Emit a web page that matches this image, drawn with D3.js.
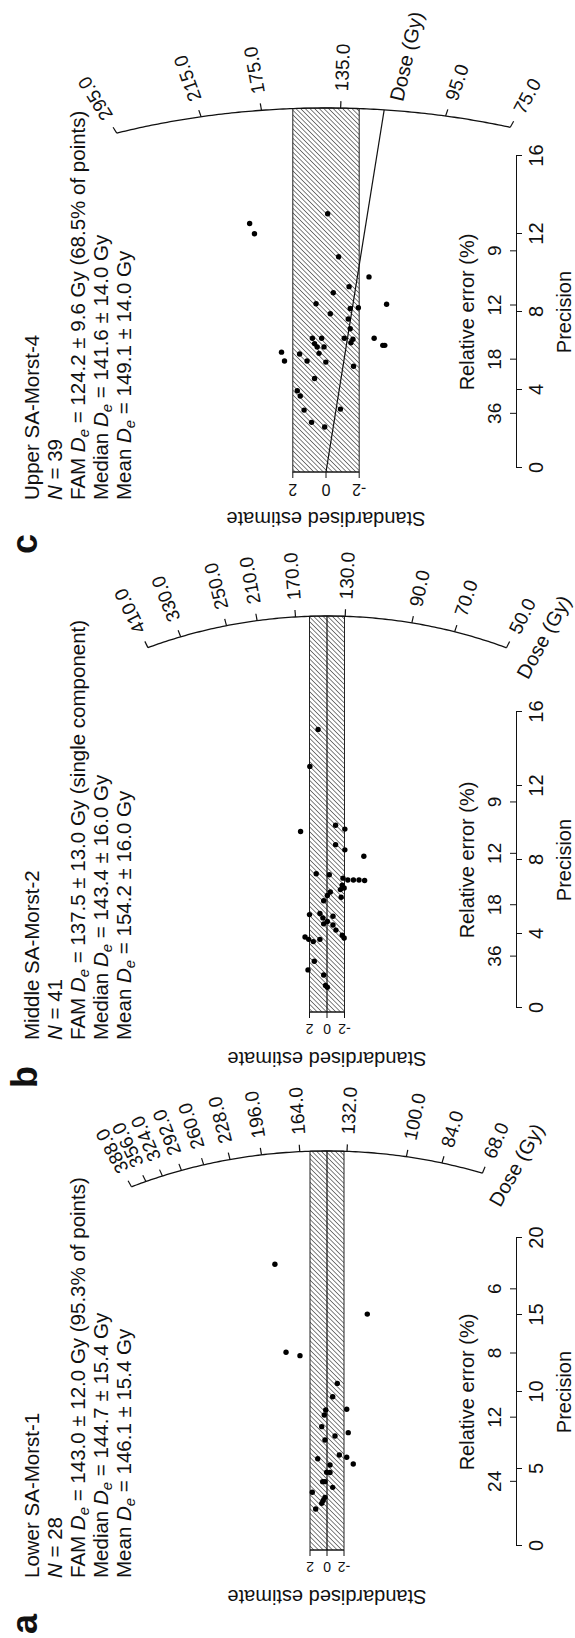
<!DOCTYPE html>
<html>
<head>
<meta charset="utf-8">
<script src="https://cdn.jsdelivr.net/npm/d3@7"></script>
<style>
  body { margin: 0; background: #fff; }
  svg text { font-family: "Liberation Sans", Arial, sans-serif; fill: #111; }
</style>
</head>
<body>
<div id="chart"></div>
<script>
// points are [precision, standardised estimate]
var pointsA = [[18.3, 6.13], [15.06, -4.74], [12.58, 4.82], [12.36, 3.18], [10.56, -1.21],
  [9.69, -0.67], [8.88, -2.32], [8.83, 0.15], [8.51, 0.32], [7.75, 0.62], [7.36, -2.5],
  [7.14, -0.94], [6.88, 0.24], [5.91, -1.45], [5.76, -2.32], [5.32, -3.09], [5.67, 1.09],
  [5.26, -0.35], [4.79, 0.04], [4.77, -0.35], [4.18, 0.51], [4.18, 0.24], [3.81, -0.67],
  [3.49, 1.73], [3.16, 0.24], [2.95, 0.45], [2.77, 0.62], [2.4, 1.33]];
var pointsB = [[15.06, 1.02], [13.06, 1.96], [9.54, 3.02], [9.88, -0.98], [9.67, -2.04],
  [8.83, -0.98], [8.55, -2.04], [8.2, -4.21], [7.26, 1.23], [7.2, -0.26], [7.02, -1.83],
  [6.92, -2.38], [6.92, -3.02], [6.92, -3.66], [6.89, -4.3], [6.64, -1.74], [6.4, -1.53],
  [6.49, -1.96], [6.27, -0.38], [6.08, -0.04], [5.8, 0.38], [5.99, -1.62], [5.11, 0.81],
  [5.05, 2.0], [4.87, 0.47], [4.96, -0.68], [4.68, -0.04], [4.55, 0.38], [4.21, -1.02],
  [3.93, -1.74], [3.78, -1.96], [3.84, 2.51], [3.71, 2.09], [3.59, 1.57], [3.71, 0.81],
  [2.53, 1.45], [2.06, 2.17], [1.78, 0.38], [1.22, 0.17], [1.12, -0.04], [4.49, -0.68]];
var pointsC = [[12.54, 4.6], [12.01, 4.31], [13.04, -0.1], [10.83, -0.76], [9.8, -2.59],
  [9.3, -1.39], [8.99, -0.44], [8.4, -3.65], [8.42, 0.6], [7.91, -0.26], [8.18, -1.46],
  [8.22, -1.95], [7.64, -1.34], [7.14, -1.46], [6.65, -1.1], [6.6, -1.62], [6.42, -1.5],
  [6.65, -2.9], [6.29, -3.42], [6.29, -3.54], [6.65, 0.82], [6.65, 0.26], [6.38, 0.69],
  [6.21, 0.12], [5.88, 0.42], [5.94, 2.68], [5.49, 2.5], [5.85, 1.59], [5.49, 1.14],
  [5.43, 0.01], [5.22, -1.66], [4.59, 0.69], [3.96, 1.73], [3.69, 1.55], [2.97, 1.32],
  [3.02, -0.87], [2.34, 0.87], [2.1, 0.08], [6.21, 0.53]];

var doseTicksA = [388, 356, 324, 292, 260, 228, 196, 164, 132, 100, 84, 68];
var doseTicksB = [410, 330, 250, 210, 170, 130, 90, 70, 50];
var doseTicksC = [295, 215, 175, 135, 95, 75];

var precTicksA = [0, 5, 10, 15, 20];
var precTicksBC = [0, 4, 8, 12, 16];
var relErrTicksA = [24, 12, 8, 6];
var relErrTicksBC = [36, 18, 12, 9];
var stdTicks = [2, 0, -2];

var titles = ["Lower SA-Morst-1", "Middle SA-Morst-2", "Upper SA-Morst-4"];
var counts = [28, 41, 39];
var famText = ["= 143.0 \u00b1 12.0 Gy (95.3% of points)", "= 137.5 \u00b1 13.0 Gy (single component)",
  "= 124.2 \u00b1 9.6 Gy (68.5% of points)"];
var medianText = ["= 144.7 \u00b1 15.4 Gy", "= 143.4 \u00b1 16.0 Gy", "= 141.6 \u00b1 14.0 Gy"];
var meanText = ["= 146.1 \u00b1 15.4 Gy", "= 154.2 \u00b1 16.0 Gy", "= 149.1 \u00b1 14.0 Gy"];
var centralDose = [144.7, 143.4, 141.6];
var famLineDose = [null, null, 117];

// layout in the landscape frame (u to the right, v down), drawn rotated.
// the dose arc is an ellipse: A along precision, B across
var panels = [
  { key: "a", points: pointsA, doses: doseTicksA, prec: precTicksA, rel: relErrTicksA,
    u0: 92, v0: 327, kx: 15.4, ky: 8.5, A: 395, B: 470, textU: 60, labelU: 4, centre: true,
    doseLab: { r: 380, ang: -26.1, rot: -29.3 }, tickFont: 14 },
  { key: "b", points: pointsB, doses: doseTicksB, prec: precTicksBC, rel: relErrTicksBC,
    u0: 630, v0: 327, kx: 18.5, ky: 8.75, A: 392, B: 455, textU: 598, labelU: 550, centre: true,
    doseLab: { r: 384, ang: -30.5, rot: -28.6 }, tickFont: 14 },
  { key: "c", points: pointsC, doses: doseTicksC, prec: precTicksBC, rel: relErrTicksBC,
    u0: 1170, v0: 326, kx: 19.5, ky: 16.6, A: 360, B: 570, textU: 1138, labelU: 1084, centre: false,
    doseLab: { r: 374, ang: -10.8, rot: -13 }, tickFont: 16 }
];

var W = 575, H = 1638;
var svg = d3.select("#chart").append("svg").attr("width", W).attr("height", H);

var defs = svg.append("defs");
defs.append("pattern")
  .attr("id", "hatch")
  .attr("patternUnits", "userSpaceOnUse")
  .attr("width", 3.3).attr("height", 3.3)
  .attr("patternTransform", "rotate(45)")
  .append("line")
  .attr("x1", 0).attr("y1", 0).attr("x2", 0).attr("y2", 3.3)
  .attr("stroke", "#1a1a1a").attr("stroke-width", 1.1);

// whole figure is drawn landscape and turned a quarter turn
var root = svg.append("g").attr("transform", "translate(0," + H + ") rotate(-90)");

var axisV = 516;

panels.forEach(function (p, i) {
  var g = root.append("g");
  var maxP = d3.max(p.prec);
  var x = d3.scaleLinear().domain([0, maxP]).range([p.u0, p.u0 + p.kx * maxP]);
  var y = d3.scaleLinear().domain([-2, 2]).range([p.v0 + 2 * p.ky, p.v0 - 2 * p.ky]);

  // where the ray of a dose meets the arc, plus an outward offset in px
  function onArc(d, extra) {
    var s = Math.log(d / centralDose[i]);
    var du = p.kx, dv = -p.ky * s;
    var t = 1 / Math.sqrt(Math.pow(du / p.A, 2) + Math.pow(dv / p.B, 2));
    var len = Math.sqrt(du * du + dv * dv);
    var tt = t + (extra || 0) / len;
    return { u: p.u0 + du * tt, v: p.v0 + dv * tt, deg: Math.atan2(-dv, du) * 180 / Math.PI };
  }
  function ellipseU(dv) {
    return p.u0 + p.A * Math.sqrt(1 - Math.pow(dv / p.B, 2));
  }

  // band of +/- 2 ending on the arc
  var yTop = y(2) - p.v0, yBot = y(-2) - p.v0;
  var band = d3.range(0, 11).map(function (k) {
    var dv = yTop + (yBot - yTop) * k / 10;
    return [ellipseU(dv), p.v0 + dv];
  });
  var bandPts = [[p.u0 - 4, y(2)]].concat(band).concat([[p.u0 - 4, y(-2)]]);
  g.append("path")
    .attr("d", d3.line()(bandPts) + "Z")
    .attr("fill", "url(#hatch)")
    .attr("stroke", "#222").attr("stroke-width", 1);

  if (p.centre) {
    g.append("line")
      .attr("x1", p.u0 - 4).attr("y1", p.v0)
      .attr("x2", ellipseU(0)).attr("y2", p.v0)
      .attr("stroke", "#111").attr("stroke-width", 1.2);
  }
  if (famLineDose[i]) {
    var end = onArc(famLineDose[i], 0);
    g.append("line")
      .attr("x1", p.u0 - 4).attr("y1", p.v0)
      .attr("x2", end.u).attr("y2", end.v)
      .attr("stroke", "#111").attr("stroke-width", 1.2);
  }

  // dose arc, sampled along the log dose
  var lo = Math.log(d3.min(p.doses)), hi = Math.log(d3.max(p.doses));
  var arcPts = d3.range(0, 121).map(function (k) {
    var q = onArc(Math.exp(hi + (lo - hi) * k / 120), 0);
    return [q.u, q.v];
  });
  g.append("path").attr("d", d3.line()(arcPts))
    .attr("fill", "none").attr("stroke", "#111").attr("stroke-width", 1.3);

  p.doses.forEach(function (d) {
    var q0 = onArc(d, 0), q1 = onArc(d, 7), q2 = onArc(d, 17);
    g.append("line")
      .attr("x1", q0.u).attr("y1", q0.v).attr("x2", q1.u).attr("y2", q1.v)
      .attr("stroke", "#111").attr("stroke-width", 1.2);
    g.append("text")
      .attr("transform", "translate(" + q2.u + "," + q2.v + ") rotate(" + (-q2.deg) + ")")
      .attr("dy", "0.35em")
      .style("font-size", "19px")
      .text(d.toFixed(1));
  });

  var ang = p.doseLab.ang * Math.PI / 180;
  g.append("text")
    .attr("transform", "translate(" + (p.u0 + p.doseLab.r * Math.cos(ang)) + "," +
      (p.v0 - p.doseLab.r * Math.sin(ang)) + ") rotate(" + (-p.doseLab.rot) + ")")
    .attr("dy", "0.35em")
    .style("font-size", "20px")
    .text("Dose (Gy)");

  // standardised estimate axis
  var ax = p.u0 - 4;
  g.append("line").attr("x1", ax).attr("x2", ax).attr("y1", y(2)).attr("y2", y(-2))
    .attr("stroke", "#111");
  stdTicks.forEach(function (t) {
    g.append("line").attr("x1", ax).attr("x2", ax - 6).attr("y1", y(t)).attr("y2", y(t))
      .attr("stroke", "#111");
    g.append("text")
      .attr("transform", "translate(" + (ax - 12) + "," + y(t) + ") rotate(-90)")
      .attr("text-anchor", "middle")
      .style("font-size", p.tickFont + "px")
      .text(String(t));
  });

  g.append("text")
    .attr("transform", "translate(" + (p.u0 - 44) + "," + p.v0 + ") rotate(-90)")
    .attr("text-anchor", "middle")
    .style("font-size", "20px")
    .text("Standardised estimate");

  // precision axis (below) and relative error axis (above)
  var xAxis = g.append("g").attr("transform", "translate(0," + axisV + ")")
    .call(d3.axisBottom(x).tickValues(p.prec).tickSize(6).tickSizeOuter(0).tickPadding(7));
  xAxis.select(".domain").attr("stroke", "#111");
  xAxis.selectAll(".tick line").attr("stroke", "#111");
  xAxis.selectAll(".tick text").style("font-size", "20px").style("font-family", null);

  var relAxis = g.append("g").attr("transform", "translate(0," + axisV + ")")
    .call(d3.axisTop(x).tickValues(p.rel.map(function (r) { return 100 / r; }))
      .tickSize(6).tickSizeOuter(0).tickPadding(9)
      .tickFormat(function (v) { return Math.round(100 / v); }));
  relAxis.select(".domain").remove();
  relAxis.selectAll(".tick line").attr("stroke", "#111");
  relAxis.selectAll(".tick text").style("font-size", "19px").style("font-family", null);

  var midU = x(maxP / 2);
  g.append("text").attr("x", midU).attr("y", 474).attr("text-anchor", "middle")
    .style("font-size", "20px").text("Relative error (%)");
  g.append("text").attr("x", midU).attr("y", 571).attr("text-anchor", "middle")
    .style("font-size", "20px").text("Precision");

  // points
  g.selectAll("circle.pt").data(p.points).enter().append("circle")
    .attr("class", "pt")
    .attr("cx", function (d) { return x(d[0]); })
    .attr("cy", function (d) { return y(d[1]); })
    .attr("r", 2.7)
    .attr("fill", "#000");

  // text block
  var lines = [39, 62, 85, 108, 131];
  g.append("text").attr("x", p.textU).attr("y", lines[0]).style("font-size", "20.5px").text(titles[i]);
  var t2 = g.append("text").attr("x", p.textU).attr("y", lines[1]).style("font-size", "20.5px");
  t2.append("tspan").style("font-style", "italic").text("N");
  t2.append("tspan").text(" = " + counts[i]);
  [["FAM ", famText[i]], ["Median ", medianText[i]], ["Mean ", meanText[i]]].forEach(function (row, k) {
    var t = g.append("text").attr("x", p.textU).attr("y", lines[k + 2]).style("font-size", "20.5px");
    t.append("tspan").text(row[0]);
    t.append("tspan").style("font-style", "italic").text("D");
    t.append("tspan").style("font-style", "italic").style("font-size", "15px").attr("dy", 4).text("e");
    t.append("tspan").attr("dy", -4).text(" " + row[1]);
  });

  g.append("text").attr("x", p.labelU).attr("y", 37)
    .style("font-size", "36px").style("font-weight", "bold").text(p.key);
});
</script>
</body>
</html>
